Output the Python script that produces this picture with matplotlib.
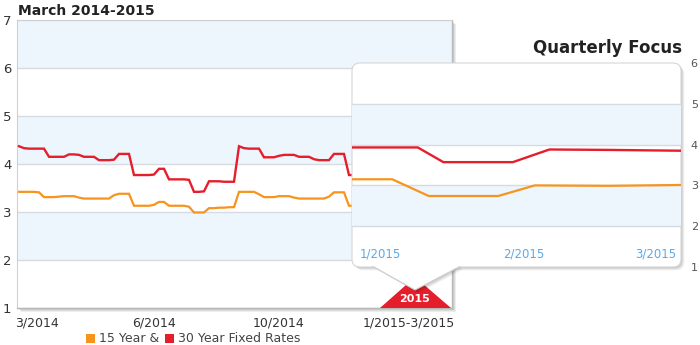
import numpy as np
import matplotlib
matplotlib.use("Agg")
import matplotlib.pyplot as plt
from matplotlib.patches import Polygon, FancyBboxPatch, Rectangle, Patch

# ---------------- data ----------------
main_title = "March 2014-2015"
inset_title = "Quarterly Focus"
legend_labels = ["15 Year &", "30 Year Fixed Rates"]

# weekly-ish points, March 2014 - March 2015
rate_30yr = [4.37, 4.33, 4.32, 4.32, 4.32, 4.32, 4.15, 4.15, 4.15, 4.15,
             4.20, 4.20, 4.19, 4.15, 4.15, 4.15, 4.08, 4.08, 4.08, 4.09,
             4.21, 4.21, 4.21, 3.77, 3.77, 3.77, 3.77, 3.78, 3.90, 3.90,
             3.68, 3.68, 3.68, 3.68, 3.67, 3.42, 3.42, 3.43, 3.64, 3.64,
             3.64, 3.63, 3.63, 3.63, 4.37, 4.33, 4.32, 4.32, 4.32, 4.14,
             4.14, 4.14, 4.17, 4.19, 4.19, 4.19, 4.15, 4.15, 4.15, 4.10,
             4.08, 4.08, 4.08, 4.21, 4.21, 4.21, 3.77, 3.77, 3.77, 3.78,
             3.90, 3.90, 3.68, 3.68, 3.68, 3.67, 3.42, 3.42, 3.43, 3.64,
             3.64, 3.64, 3.63, 3.63, 3.63, 3.63, 3.63]
rate_15yr = [3.42, 3.42, 3.42, 3.42, 3.41, 3.31, 3.31, 3.31, 3.32, 3.33,
             3.33, 3.33, 3.30, 3.28, 3.28, 3.28, 3.28, 3.28, 3.28, 3.35,
             3.38, 3.38, 3.38, 3.13, 3.13, 3.13, 3.13, 3.15, 3.21, 3.21,
             3.13, 3.13, 3.13, 3.13, 3.11, 2.99, 2.99, 2.99, 3.08, 3.08,
             3.09, 3.09, 3.10, 3.10, 3.42, 3.42, 3.42, 3.42, 3.37, 3.31,
             3.31, 3.31, 3.33, 3.33, 3.33, 3.30, 3.28, 3.28, 3.28, 3.28,
             3.28, 3.28, 3.32, 3.41, 3.41, 3.41, 3.13, 3.13, 3.13, 3.15,
             3.21, 3.21, 3.13, 3.13, 3.13, 3.11, 2.99, 2.99, 2.99, 3.08,
             3.08, 3.09, 3.09, 3.10, 3.10, 3.10, 3.10]
main_xlabels = ["3/2014", "6/2014", "10/2014", "1/2015-3/2015"]
main_yticks = [1, 2, 3, 4, 5, 6, 7]

# quarterly focus (day of quarter)
q_days_30 = [0, 18, 25, 44, 54, 70, 90]
q_rate_30 = [3.93, 3.93, 3.57, 3.57, 3.88, 3.87, 3.85]
q_days_15 = [0, 11, 21, 40, 50, 70, 90]
q_rate_15 = [3.15, 3.15, 2.74, 2.74, 3.00, 2.99, 3.01]
q_xlabels = ["1/2015", "2/2015", "3/2015"]
q_yticks = [1, 2, 3, 4, 5, 6]
badge_text = "2015"

# ---------------- style ----------------
RED = "#e41f2b"
ORANGE = "#f7941d"
BAND = "#eef6fd"
GRID = "#d5dbe1"
TXT = "#333333"
BLUE_TXT = "#5aa9e6"
FONT = "DejaVu Sans"
plt.rcParams['font.family'] = [FONT]

W, H = 700, 345
def fy(y):
    return 1 - y / H

fig = plt.figure(figsize=(W / 100, H / 100), dpi=100)

# background layer (shadows)
bg = fig.add_axes([0, 0, 1, 1], zorder=0)
bg.set_xlim(0, W); bg.set_ylim(H, 0); bg.axis('off')
L, T, R, B = 17, 20, 452, 308
for k in range(1, 5):
    bg.add_patch(Rectangle((L + k, T + k), R - L, B - T, facecolor='#000000',
                           alpha=0.07, edgecolor='none'))

# ---------------- main chart ----------------
ax = fig.add_axes([L / W, fy(B), (R - L) / W, (B - T) / H], zorder=1)
ax.set_facecolor('white')
x = np.arange(len(rate_30yr))
ax.set_xlim(-0.4, 86.6)
ax.set_ylim(1, 7)
for lo in (2, 4, 6):
    ax.axhspan(lo, lo + 1, color=BAND, lw=0, zorder=0)
for yv in main_yticks:
    ax.axhline(yv, color=GRID, lw=1, zorder=0.5)
ax.plot(x, rate_15yr, color=ORANGE, lw=1.6, zorder=2, solid_joinstyle='miter')
ax.plot(x, rate_30yr, color=RED, lw=1.7, zorder=3, solid_joinstyle='miter')
ax.set_yticks(main_yticks)
ax.set_yticklabels([str(v) for v in main_yticks], fontsize=9.5, color=TXT)
ax.set_xticks([3.6, 27, 52, 78])
ax.set_xticklabels(main_xlabels, fontsize=9, color=TXT)
ax.tick_params(length=0, pad=6, axis='x')
ax.tick_params(length=0, pad=4, axis='y')
for s in ('left', 'top'):
    ax.spines[s].set_color('#d0d0d0'); ax.spines[s].set_linewidth(0.8)
for s in ('right', 'bottom'):
    ax.spines[s].set_color('#b8b8b8'); ax.spines[s].set_linewidth(1.0)

# ---------------- overlay (badge + callout) ----------------
ov = fig.add_axes([0, 0, 1, 1], zorder=2)
ov.set_xlim(0, W); ov.set_ylim(H, 0); ov.axis('off')
ov.patch.set_alpha(0)
ov.add_patch(Polygon([(380, 308), (451, 308), (415, 277)], closed=True,
                     facecolor=RED, edgecolor='none', zorder=1))
ov.text(415, 299, badge_text, color='white', fontsize=8, fontweight='bold',
        ha='center', va='center', zorder=1.5)

cx0, cy0, cx1, cy1 = 352, 63, 681, 267
ptr = [(373, cy1 - 1), (460, cy1 - 1), (415, 290)]
for k in range(1, 5):
    ov.add_patch(FancyBboxPatch((cx0 + k * 0.8, cy0 + k * 0.8), cx1 - cx0, cy1 - cy0,
                                boxstyle="round,pad=0,rounding_size=8",
                                facecolor='black', alpha=0.06, edgecolor='none', zorder=2))
    ov.add_patch(Polygon([(px + k * 0.8, py + k * 0.8) for px, py in ptr], closed=True,
                         facecolor='black', alpha=0.06, edgecolor='none', zorder=2))
ov.add_patch(FancyBboxPatch((cx0, cy0), cx1 - cx0, cy1 - cy0,
                            boxstyle="round,pad=0,rounding_size=8",
                            facecolor='white', edgecolor='#d6d6d6', lw=0.8, zorder=3))
ov.add_patch(Polygon(ptr, closed=True, facecolor='white', edgecolor='none', zorder=3.5))
ov.plot([ptr[0][0], ptr[2][0], ptr[1][0]], [ptr[0][1] + 0.5, ptr[2][1], ptr[1][1] + 0.5],
        color='#cfcfcf', lw=0.8, zorder=3.6)

# ---------------- inset chart ----------------
ax2 = fig.add_axes([cx0 / W, fy(cy1), (cx1 - cx0) / W, (cy1 - cy0) / H], zorder=3)
ax2.set_facecolor('none')
ax2.set_xlim(0, 90)
ax2.set_ylim(1, 6)
for lo in (2, 4):
    ax2.axhspan(lo, lo + 1, color=BAND, lw=0, zorder=0)
for yv in (2, 3, 4, 5):
    ax2.axhline(yv, color=GRID, lw=1, zorder=0.5)
ax2.plot(q_days_15, q_rate_15, color=ORANGE, lw=1.6, zorder=2)
ax2.plot(q_days_30, q_rate_30, color=RED, lw=1.7, zorder=3)
for s in ax2.spines.values():
    s.set_visible(False)
ax2.set_xticks([])
ax2.yaxis.tick_right()
ax2.set_yticks(q_yticks)
ax2.set_yticklabels([str(v) for v in q_yticks], fontsize=8, color='#555555')
ax2.tick_params(axis='y', length=0, pad=7)
for xd, lab in zip([7.7, 47, 83], q_xlabels):
    ax2.text(xd, 0.065, lab, transform=ax2.get_xaxis_transform(), color=BLUE_TXT,
             fontsize=8.5, ha='center', va='center')

# ---------------- titles / legend ----------------
fig.text(18 / W, fy(11), main_title, fontsize=10, fontweight='bold', color='#222222',
         ha='left', va='center')
fig.text(682 / W, fy(48), inset_title, fontsize=12, fontweight='bold', color='#222222',
         ha='right', va='center')
handles = [Patch(facecolor=ORANGE, edgecolor='none'), Patch(facecolor=RED, edgecolor='none')]
fig.legend(handles, legend_labels, loc='center', bbox_to_anchor=(193 / W, fy(339)),
           ncol=2, frameon=False, fontsize=9, handlelength=0.7, handleheight=0.7,
           handletextpad=0.3, columnspacing=0.5, borderpad=0, labelcolor='#444444')

fig.savefig("out.png", dpi=100)
